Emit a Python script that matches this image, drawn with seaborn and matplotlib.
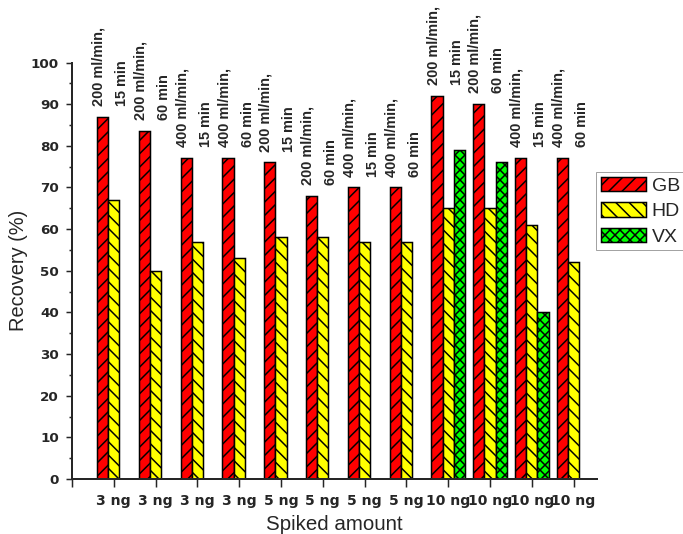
import matplotlib
matplotlib.use("Agg")
import matplotlib.pyplot as plt
import matplotlib.patches as mpatches
from matplotlib.ticker import MultipleLocator
import seaborn as sns
import pandas as pd

# Spiked amount for each sample run
amounts = ["3 ng", "3 ng", "3 ng", "3 ng", "5 ng", "5 ng", "5 ng", "5 ng",
           "10 ng", "10 ng", "10 ng", "10 ng"]
# Sampling condition for each run
conditions = ["200 ml/min,\n15 min", "200 ml/min,\n60 min",
              "400 ml/min,\n15 min", "400 ml/min,\n60 min"] * 3
# Recovery (%) per agent
gb = [87, 83.5, 77, 77, 76, 68, 70, 70, 92, 90, 77, 77]
hd = [67, 50, 57, 53, 58, 58, 57, 57, 65, 65, 61, 52]
vx_runs = [8, 9, 10]          # runs where VX was measured
vx = [79, 76, 40]

agents = ["GB", "HD", "VX"]
colors = {"GB": "#FF0000", "HD": "#FFFF00", "VX": "#00FF00"}
hatches = {"GB": "///", "HD": "\\\\\\", "VX": "xxxx"}

run_ids = [f"run{i}" for i in range(len(amounts))]
rows = []
for i, rid in enumerate(run_ids):
    rows.append((rid, "GB", gb[i]))
    rows.append((rid, "HD", hd[i]))
for i, v in zip(vx_runs, vx):
    rows.append((run_ids[i], "VX", v))
df = pd.DataFrame(rows, columns=["run", "agent", "recovery"])

DPI = 120
PT = 72 / DPI  # points per pixel
ARIAL = ["Liberation Sans", "DejaVu Sans"]

sns.set_style("ticks")
plt.rcParams["hatch.linewidth"] = 1.5 * PT
plt.rcParams["font.family"] = ["DejaVu Sans"]

fig = plt.figure(figsize=(683 / DPI, 534 / DPI), dpi=DPI)
ax = fig.add_axes([72 / 683, 1 - 479 / 534, (597 - 72) / 683, (479 - 62.5) / 534])

sns.barplot(data=df, x="run", y="recovery", hue="agent", order=run_ids,
            hue_order=agents, palette=colors, saturation=1, width=0.8,
            errorbar=None, edgecolor="black", linewidth=1.5 * PT,
            legend=False, ax=ax)

for cont, agent in zip(ax.containers, agents):
    for bar in cont:
        bar.set_hatch(hatches[agent])

# Sampling-condition labels above each run
for i, txt in enumerate(conditions):
    ax.annotate(txt, xy=(i - 0.08, gb[i] + 2.6), rotation=90,
                ha="center", va="bottom", multialignment="left",
                fontsize=14.5 * PT, fontweight="bold", linespacing=1.85,
                family=ARIAL, annotation_clip=False)

ax.set_xlim(-1, 11.56)
ax.set_ylim(0, 100)
ax.set_xticks(range(-1, len(amounts)))
ax.set_xticklabels([""] + amounts)
ax.yaxis.set_major_locator(MultipleLocator(10))
ax.yaxis.set_minor_locator(MultipleLocator(5))

for lab in ax.get_xticklabels():
    lab.set_fontweight("bold")
    lab.set_fontsize(14 * PT)
for lab in ax.get_yticklabels():
    lab.set_fontweight("bold")
    lab.set_fontsize(13.5 * PT)

ax.tick_params(axis="y", which="major", length=6 * PT, width=1.5 * PT, pad=7 * PT, direction="out")
ax.tick_params(axis="y", which="minor", length=3 * PT, width=1.5 * PT, direction="out")
ax.tick_params(axis="x", which="major", length=8 * PT, width=1.5 * PT, pad=7 * PT, direction="out")

sns.despine(ax=ax)
for side in ("left", "bottom"):
    ax.spines[side].set_linewidth(2 * PT)

ax.set_xlabel("Spiked amount", fontsize=20.5 * PT, family=ARIAL, labelpad=4)
ax.set_ylabel("Recovery (%)", fontsize=20 * PT, family=ARIAL, labelpad=2)

handles = [mpatches.Patch(facecolor=colors[a], edgecolor="black", hatch=hatches[a],
                          linewidth=1.5 * PT, label=a) for a in agents]
leg = fig.legend(handles=handles, loc="upper left",
                 bbox_to_anchor=(596 / 683, 1 - 172 / 534),
                 prop={"family": ARIAL, "size": 19.5 * PT},
                 handlelength=2.3, handleheight=0.75, handletextpad=0.3,
                 labelspacing=0.38, borderpad=0.25, borderaxespad=0,
                 fancybox=False, frameon=True)
leg.get_frame().set_edgecolor("0.55")
leg.get_frame().set_linewidth(1 * PT)

fig.savefig("out.png", dpi=DPI)
